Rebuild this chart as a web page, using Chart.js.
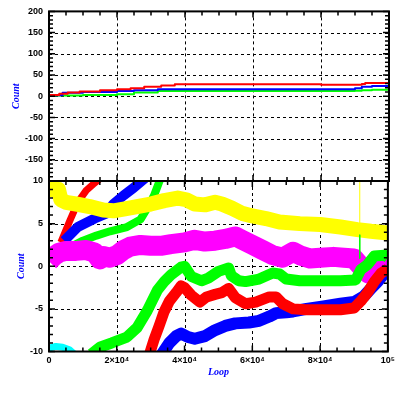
<!DOCTYPE html>
<html><head><meta charset="utf-8">
<script src="https://cdn.jsdelivr.net/npm/chart.js@4"></script>
<style>
html,body{margin:0;padding:0;background:#fff;width:399px;height:399px;overflow:hidden}
canvas{position:absolute;left:0;top:0}
</style></head><body>
<canvas id="c1" width="399" height="399"></canvas>
<canvas id="c2" width="399" height="399"></canvas>
<script>
// ---- tick values and labels ----
const xTicks = [0, 20000, 40000, 60000, 80000, 100000];
const xLabels = ['0', '2×10⁴', '4×10⁴', '6×10⁴', '8×10⁴', '10⁵'];
const topTicks = [200, 150, 100, 50, 0, -50, -100, -150];
const topLabels = ['200', '150', '100', '50', '0', '-50', '-100', '-150'];
const botTicks = [10, 5, 0, -5, -10];
const botLabels = ['10', '5', '0', '-5', '-10'];
const xGrid = [20000, 40000, 60000, 80000];
const topGrid = [150, 100, 50, 0, -50, -100, -150];
const botGrid = [5, 0, -5];

// ---- top panel series [loop, count] ----
const topRed = [[0,2],[3000,3],[5500,6],[9000,8.5],[15000,11],[20000,14],[24000,16.5],[28000,19],[33000,22],[37000,25.5],[44000,28],[80000,28],[82000,27],[92000,27],[93000,29],[96000,31],[100000,31]];
const topBlue = [[0,1],[4000,2],[10000,8],[20000,10],[25000,12],[32000,14],[37000,16.4],[90000,16.4],[92000,18.5],[95000,22],[98000,24],[100000,24]];
const topGreen = [[0,1],[10000,1.5],[20000,3],[25000,4.7],[32000,8.5],[37000,12],[60000,12.3],[90000,12.3],[92000,13],[95000,14],[98000,15.5],[100000,15.5]];

// ---- bottom panel series [loop, count] ----
const yellowBand = [[0,9.0],[2800,9.0],[3500,7.8],[5000,7.5],[8000,7.3],[12000,7.0],[16000,6.6],[19000,6.5],[22000,6.7],[26000,7.0],[30000,7.3],[34000,7.7],[38000,8.0],[40500,7.8],[43000,7.3],[46000,7.2],[49000,7.5],[51000,7.3],[54000,6.8],[57000,6.2],[60000,5.9],[64000,5.6],[68000,5.2],[74000,5.0],[80000,4.9],[86000,4.6],[91000,4.3],[95000,4.1],[100000,3.9]];
const magentaBand = [[0,0.6],[1500,1.2],[3000,1.6],[5000,1.8],[8000,1.8],[11000,1.9],[13500,1.6],[15000,0.8],[16000,1.2],[18000,1.0],[20000,1.3],[22000,1.9],[24000,2.3],[27000,2.5],[30000,2.4],[33000,2.4],[36000,2.6],[40000,2.8],[43000,3.1],[46000,2.9],[49000,3.0],[52000,3.2],[55000,3.5],[57000,3.1],[60000,2.5],[63000,1.9],[66000,1.3],[69000,1.0],[72000,1.7],[74000,1.3],[77000,0.9],[80000,1.0],[84000,1.1],[87000,1.0],[90000,0.9],[92000,0.0],[94000,-0.8],[96000,-1.1],[98000,-0.4],[100000,0.8]];
const redUpper = [[3500,2.8],[6000,5.2],[8500,7.5],[11000,8.9],[13000,9.6],[16000,10.6]];
const blueUpper = [[4500,3.0],[8500,4.6],[13500,5.6],[17000,6.2],[19000,7.3],[22000,8.3],[25000,9.2],[28500,10.4]];
const greenUpper = [[6000,2.2],[10000,3.0],[14000,3.6],[18000,4.1],[23000,4.6],[27000,5.5],[29000,6.8],[31000,8.3],[33000,10.4]];
const cyanBand = [[0,-9.6],[2000,-9.4],[4000,-9.5],[6000,-9.8],[7500,-10.3]];
const greenLower = [[12500,-10.3],[15000,-9.5],[18500,-9.0],[23000,-8.3],[26000,-7.2],[29000,-5.2],[32000,-2.8],[34000,-1.8],[36000,-1.0],[39000,-0.1],[40000,0.0],[42000,-1.2],[45000,-1.7],[47000,-1.4],[50000,-0.6],[53000,-0.2],[53800,-1.1],[56000,-1.7],[58000,-1.8],[62000,-1.5],[66000,-0.8],[68000,-0.9],[70000,-1.5],[74000,-1.7],[80000,-1.7],[86000,-1.7],[90500,-1.6],[92000,-0.4],[94000,0.2],[96000,1.2],[99000,1.3],[100000,1.0]];
const redLower = [[29500,-10.5],[31000,-8.6],[32500,-7.0],[34000,-5.3],[35500,-4.1],[37500,-3.1],[39000,-2.3],[40000,-2.5],[42000,-3.4],[44500,-4.2],[46500,-3.6],[49000,-3.3],[51000,-3.1],[53000,-2.6],[55000,-3.7],[58000,-4.4],[61000,-4.2],[65000,-3.6],[67000,-3.6],[69000,-4.4],[72000,-5.0],[76000,-5.1],[82000,-5.1],[86000,-5.1],[90000,-4.9],[92000,-4.1],[94000,-3.1],[96000,-1.8],[98000,-0.8],[100000,-0.3]];
const blueLower = [[33000,-10.5],[35500,-9.0],[37500,-8.2],[39000,-7.9],[41000,-8.3],[43000,-8.5],[46000,-8.2],[49000,-7.5],[52000,-7.0],[55000,-6.7],[59000,-6.6],[62000,-6.4],[65000,-5.9],[67000,-5.5],[70000,-5.4],[72000,-5.3],[76000,-5.0],[81000,-4.7],[86000,-4.4],[90000,-4.2],[93000,-3.5],[95000,-2.6],[97000,-1.8],[99000,-0.8],[100000,-0.3]];
const yellowSpike = [[91700,4.5],[91700,10.5]];
const greenSpike = [[91700,3.7],[91700,0.9]];

const toXY = a => a.map(([x, y]) => ({x, y}));
const ds = (data, color, w, extra) => Object.assign({data: toXY(data), borderColor: color, backgroundColor: color, borderWidth: w, pointRadius: 0, fill: false, clip: 0, borderJoinStyle: 'round', tension: 0}, extra || {});

const tickFont = {family: 'Liberation Sans', weight: 'bold', size: 9};
const titleFont = {family: 'Liberation Serif', style: 'italic', weight: 'bold', size: 10};

function framePlugin(yMinorStep, yMajorStep, yGrid) {
  return {
    id: 'frame',
    beforeDatasetsDraw(chart) {
      const {ctx, chartArea: a, scales: {x, y}} = chart;
      ctx.save();
      ctx.strokeStyle = '#000'; ctx.lineWidth = 1; ctx.setLineDash([3, 3]);
      ctx.beginPath();
      for (const v of xGrid) { const p = Math.round(x.getPixelForValue(v)) + 0.5; ctx.moveTo(p, a.top); ctx.lineTo(p, a.bottom); }
      for (const v of yGrid) { const p = Math.round(y.getPixelForValue(v)) + 0.5; ctx.moveTo(a.left, p); ctx.lineTo(a.right, p); }
      ctx.stroke();
      ctx.restore();
    },
    afterDraw(chart) {
      const {ctx, chartArea: a, scales: {x, y}} = chart;
      ctx.save();
      ctx.strokeStyle = '#000'; ctx.lineWidth = 1.5; ctx.setLineDash([]);
      ctx.beginPath();
      for (let v = x.min; v <= x.max + 1; v += 5000) {
        const p = x.getPixelForValue(v);
        const len = (v % 20000 === 0) ? 6 : 4;
        ctx.moveTo(p, a.bottom); ctx.lineTo(p, a.bottom - len);
        ctx.moveTo(p, a.top); ctx.lineTo(p, a.top + len);
      }
      for (let v = y.min; v <= y.max + 1e-6; v += yMinorStep) {
        const p = y.getPixelForValue(v);
        const len = (Math.abs(v % yMajorStep) < 1e-6) ? 6 : 4;
        ctx.moveTo(a.left, p); ctx.lineTo(a.left + len, p);
        ctx.moveTo(a.right, p); ctx.lineTo(a.right - len, p);
      }
      ctx.stroke();
      ctx.lineWidth = 2;
      ctx.strokeRect(a.left, a.top, a.right - a.left, a.bottom - a.top);
      ctx.restore();
    }
  };
}

Chart.defaults.animation = false;

new Chart(document.getElementById('c1'), {
  type: 'line',
  data: {datasets: [
    ds(topRed, '#ff0000', 2, {stepped: 'after'}),
    ds(topBlue, '#0000ff', 2, {stepped: 'after'}),
    ds(topGreen, '#00ff00', 2, {stepped: 'after'})
  ]},
  options: {
    responsive: false, animation: false,
    layout: {padding: {top: 10, right: 10, bottom: 218, left: 0}},
    plugins: {legend: {display: false}, tooltip: {enabled: false}},
    scales: {
      x: {type: 'linear', min: 0, max: 100000, display: false},
      y: {
        type: 'linear', min: -200, max: 200,
        afterFit(s) { s.width = 49; },
        afterBuildTicks(s) { s.ticks = topTicks.map(v => ({value: v})); },
        grid: {display: false, drawTicks: false}, border: {display: false},
        ticks: {padding: 6, color: '#000', font: tickFont, autoSkip: false,
          callback: (v) => topLabels[topTicks.indexOf(v)]},
        title: {display: true, text: 'Count', color: '#0000ff', font: titleFont, padding: {top: 10.5, bottom: 0}}
      }
    }
  },
  plugins: [framePlugin(10, 50, topGrid)]
});

new Chart(document.getElementById('c2'), {
  type: 'line',
  data: {datasets: [
    ds(yellowSpike, '#ffff00', 1),
    ds(greenSpike, '#00ff00', 1),
    ds(redLower, '#ff0000', 11),
    ds(blueLower, '#0000ff', 12),
    ds(greenLower, '#00ff00', 11),
    ds(magentaBand, '#ff00ff', 20),
    ds(yellowBand, '#ffff00', 15),
    ds(greenUpper, '#00ff00', 8),
    ds(blueUpper, '#0000ff', 10),
    ds(redUpper, '#ff0000', 7),
    ds(cyanBand, '#00ffff', 7)
  ]},
  options: {
    responsive: false, animation: false,
    layout: {padding: {top: 181, right: 10, bottom: 0, left: 0}},
    plugins: {legend: {display: false}, tooltip: {enabled: false}},
    scales: {
      x: {
        type: 'linear', min: 0, max: 100000,
        afterFit(s) { s.height = 47.5; },
        afterBuildTicks(s) { s.ticks = xTicks.map(v => ({value: v})); },
        grid: {display: false, drawTicks: false}, border: {display: false},
        ticks: {padding: 4, color: '#000', font: tickFont, autoSkip: false, maxRotation: 0,
          callback: (v) => xLabels[xTicks.indexOf(v)]},
        title: {display: true, text: 'Loop', color: '#0000ff', font: titleFont, padding: {top: 0, bottom: 20.5}}
      },
      y: {
        type: 'linear', min: -10, max: 10,
        afterFit(s) { s.width = 49; },
        afterBuildTicks(s) { s.ticks = botTicks.map(v => ({value: v})); },
        grid: {display: false, drawTicks: false}, border: {display: false},
        ticks: {padding: 6, color: '#000', font: tickFont, autoSkip: false,
          callback: (v) => botLabels[botTicks.indexOf(v)]},
        title: {display: true, text: 'Count', color: '#0000ff', font: titleFont, padding: {top: 15.7, bottom: 0}}
      }
    }
  },
  plugins: [framePlugin(1, 5, botGrid)]
});
</script>
</body></html>
